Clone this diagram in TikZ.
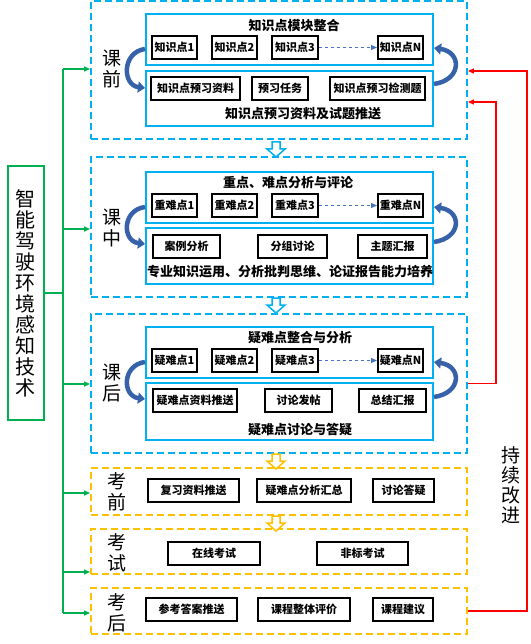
\documentclass[tikz,border=0pt]{standalone}
\usepackage{fontspec}
\newfontfamily\cjk{Noto Sans CJK SC}
\usetikzlibrary{arrows.meta}

\definecolor{stagecyan}{HTML}{00B0F0}
\definecolor{stageorange}{HTML}{FFC000}
\definecolor{treegreen}{HTML}{00B050}
\definecolor{linkblue}{HTML}{4472C4}
\definecolor{cycleblue}{HTML}{3762AA}

\tikzset{
  stage/.style={dash pattern=on 7pt off 4pt, line width=1.8pt, inner sep=0pt},
  panel/.style={draw=stagecyan, line width=2pt, inner sep=0pt},
  item/.style={draw=black, line width=2pt, minimum height=23pt, inner sep=1pt,
    font=\cjk\bfseries\fontsize{11}{12}\selectfont},
  heading/.style={font=\cjk\bfseries\fontsize{13}{15}\selectfont},
  phaselabel/.style={align=center, font=\cjk\fontsize{19}{21}\selectfont},
  trunk/.style={draw=treegreen, line width=1.2pt},
  branch/.style={trunk, -{Triangle[length=6pt,width=5pt]}},
  feedback/.style={draw=red, line width=1.2pt, -{Triangle[length=6pt,width=5pt]}},
  nextlink/.style={draw=linkblue, line width=1pt, dashed, -{Triangle[length=6pt,width=5pt]}},
  cyclearrow/.style={draw=cycleblue, line width=4.5pt, -{Triangle[length=7pt,width=11pt]}},
  hollow/.pic={\draw[line width=1.5pt, fill=white] (-4,0) -- (4,0) -- (4,7) -- (9,7)
    -- (0,15) -- (-9,7) -- (-4,7) -- cycle;}
}

\begin{document}
\begin{tikzpicture}[x=1pt,y=-1pt]
\useasboundingbox (0,0) rectangle (530,644);

% stages
\node[stage, draw=stagecyan, minimum width=376, minimum height=138] (s1) at (279,70) {};
\node[stage, draw=stagecyan, minimum width=376, minimum height=140] (s2) at (279,227) {};
\node[stage, draw=stagecyan, minimum width=376, minimum height=139] (s3) at (279,383.5) {};
\node[stage, draw=stageorange, minimum width=376, minimum height=47] (s4) at (279,491.5) {};
\node[stage, draw=stageorange, minimum width=376, minimum height=45] (s5) at (279,551.5) {};
\node[stage, draw=stageorange, minimum width=376, minimum height=46] (s6) at (279,611) {};

\pic[color=stagecyan] at (276,142) {hollow};
\pic[color=stagecyan] at (276,298) {hollow};
\pic[color=stageorange] at (276,454) {hollow};
\pic[color=stageorange] at (276,516) {hollow};

\node[phaselabel] (p1) at (112,68.5) {课\\前};
\node[phaselabel] (p2) at (112,227.5) {课\\中};
\node[phaselabel] (p3) at (112,382.5) {课\\后};
\node[phaselabel] (p4) at (117,492) {考\\前};
\node[phaselabel] (p5) at (117,552.5) {考\\试};
\node[phaselabel] (p6) at (117,612.5) {考\\后};

% before class
\node[panel, minimum width=287, minimum height=51] (t1) at (289.5,39.5) {};
\node[panel, minimum width=287, minimum height=55] (b1) at (289.5,98.5) {};
\node[heading] (h1) at (294,26) {知识点模块整合};
\node[item, minimum width=45] (k1) at (174.5,47.5) {知识点1};
\node[item, minimum width=45] (k2) at (234.5,47.5) {知识点2};
\node[item, minimum width=46] (k3) at (295,47.5) {知识点3};
\node[item, minimum width=45] (kN) at (400.5,47.5) {知识点N};
\draw[nextlink] (k3) -- (kN);
\node[item, minimum width=89] (m1) at (195.5,88.5) {知识点预习资料};
\node[item, minimum width=56] (m2) at (280,88.5) {预习任务};
\node[item, minimum width=95] (m3) at (377.5,88.5) {知识点预习检测题};
\node[heading] (c1) at (303,114) {知识点预习资料及试题推送};

% in class
\node[panel, minimum width=287, minimum height=51] (t2) at (289.5,197.5) {};
\node[panel, minimum width=287, minimum height=56] (b2) at (289.5,256) {};
\node[heading] (h2) at (288,183) {重点、难点分析与评论};
\node[item, minimum width=45] (z1) at (174.5,205.5) {重难点1};
\node[item, minimum width=45] (z2) at (234.5,205.5) {重难点2};
\node[item, minimum width=46] (z3) at (295,205.5) {重难点3};
\node[item, minimum width=45] (zN) at (400.5,205.5) {重难点N};
\draw[nextlink] (z3) -- (zN);
\node[item, minimum width=67] (n1) at (186.5,246) {案例分析};
\node[item, minimum width=69] (n2) at (292.5,246) {分组讨论};
\node[item, minimum width=69] (n3) at (392.5,246) {主题汇报};
\node[heading] (c2) at (290,272) {专业知识运用、分析批判思维、论证报告能力培养};

% after class
\node[panel, minimum width=287, minimum height=51] (t3) at (289.5,352.5) {};
\node[panel, minimum width=287, minimum height=57] (b3) at (289.5,411.5) {};
\node[heading] (h3) at (300,338) {疑难点整合与分析};
\node[item, minimum width=45] (y1) at (174.5,360.5) {疑难点1};
\node[item, minimum width=45] (y2) at (234.5,360.5) {疑难点2};
\node[item, minimum width=46] (y3) at (295,360.5) {疑难点3};
\node[item, minimum width=45] (yN) at (400.5,360.5) {疑难点N};
\draw[nextlink] (y3) -- (yN);
\node[item, minimum width=84] (q1) at (195,400) {疑难点资料推送};
\node[item, minimum width=67] (q2) at (298.5,400) {讨论发帖};
\node[item, minimum width=67] (q3) at (392.5,400) {总结汇报};
\node[heading] (c3) at (300,430) {疑难点讨论与答疑};

\draw[cyclearrow] ([yshift=-9.5pt]t1.west) .. controls +(-23,3) and +(-23,-3) .. ([yshift=10.5pt]b1.west);
\draw[cyclearrow] ([yshift=14.5pt]b1.east) .. controls +(28,-4) and +(28,4) .. ([yshift=-8.5pt]t1.east);
\draw[cyclearrow] ([yshift=-9.5pt]t2.west) .. controls +(-23,3) and +(-23,-3) .. ([yshift=12pt]b2.west);
\draw[cyclearrow] ([yshift=14pt]b2.east) .. controls +(28,-4) and +(28,4) .. ([yshift=-9.5pt]t2.east);
\draw[cyclearrow] ([yshift=-9.5pt]t3.west) .. controls +(-23,3) and +(-23,-3) .. ([yshift=12.5pt]b3.west);
\draw[cyclearrow] ([yshift=14.5pt]b3.east) .. controls +(28,-4) and +(28,4) .. ([yshift=-9.5pt]t3.east);

% exams
\node[item, minimum width=91] (e1) at (193.5,490) {复习资料推送};
\node[item, minimum width=94] (e2) at (304,490) {疑难点分析汇总};
\node[item, minimum width=61] (e3) at (403.5,490) {讨论答疑};
\node[item, minimum width=92] (x1) at (214,553.5) {在线考试};
\node[item, minimum width=91] (x2) at (362.5,553.5) {非标考试};
\node[item, minimum width=91] (a1) at (191.5,609.5) {参考答案推送};
\node[item, minimum width=92] (a2) at (304,609.5) {课程整体评价};
\node[item, minimum width=60] (a3) at (403,609.5) {课程建议};

% course and tree
\node[draw=treegreen, line width=2pt, minimum width=36, minimum height=254, align=center,
  font=\cjk\fontsize{20}{21}\selectfont] (tech) at (26,293) {智\\能\\驾\\驶\\环\\境\\感\\知\\技\\术};

\coordinate (g1) at (63,69);
\coordinate (g2) at (63,229);
\coordinate (g3) at (63,384);
\coordinate (g4) at (63,493);
\coordinate (g5) at (63,572);
\coordinate (g6) at (63,613);
\draw[trunk] (tech.east) -- (tech.east -| g1);
\draw[trunk] (g1) -- (g6);
\draw[branch] (g1) -- (g1 -| s1.west);
\draw[branch] (g2) -- (g2 -| s2.west);
\draw[branch] (g3) -- (g3 -| s3.west);
\draw[branch] (g4) -- (g4 -| s4.west);
\draw[branch] (g5) -- (g5 -| s5.west);
\draw[branch] (g6) -- (g6 -| s6.west);

% feedback
\coordinate (r1) at (527,71);
\coordinate (r2) at (496,102);
\draw[feedback] (s6.east) -| (r1) -- (r1 -| s1.east);
\draw[feedback] (s3.east) -| (r2) -- (r2 -| s1.east);
\node[align=center, font=\cjk\fontsize{19}{20}\selectfont] (cont) at (511,485) {持\\续\\改\\进};

\end{tikzpicture}
\end{document}
